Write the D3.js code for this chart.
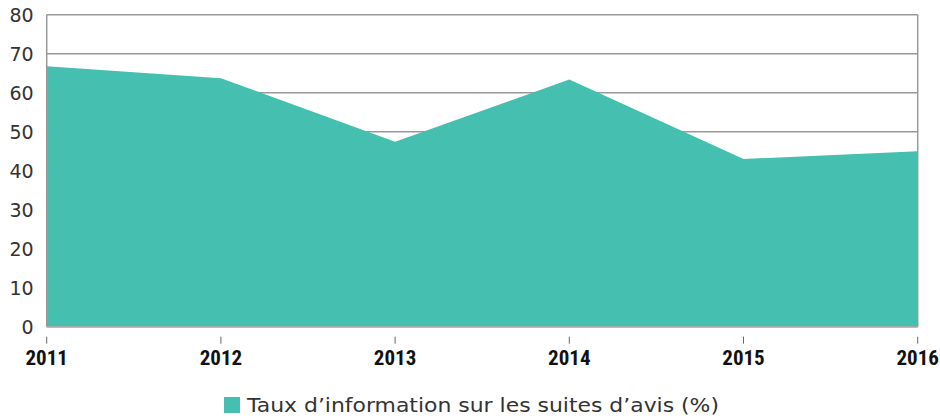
<!DOCTYPE html>
<html>
<head>
<meta charset="utf-8">
<script src="https://cdn.jsdelivr.net/npm/d3@7"></script>
<style>
  body { margin: 0; background: #fff; }
  .ylab { font-family: "DejaVu Sans", sans-serif; font-size: 19px; fill: #333; }
  .xlab { font-family: "Liberation Sans Narrow", "Roboto Condensed", "Roboto", sans-serif; font-weight: bold; font-size: 21px; fill: #111; }
  .legend { font-family: "DejaVu Sans", sans-serif; font-size: 20px; fill: #333; }
</style>
</head>
<body>
<div id="chart"></div>
<script>
var years = ["2011", "2012", "2013", "2014", "2015", "2016"];
var values = [66.8, 63.7, 47.4, 63.4, 43.0, 45.0];
var yTicks = [0, 10, 20, 30, 40, 50, 60, 70, 80];
var seriesName = "Taux d\u2019information sur les suites d\u2019avis (%)";

var width = 940, height = 418;
var margin = {top: 14.7, right: 22.3, bottom: 91.3, left: 46.7};
var w = width - margin.left - margin.right,
    h = height - margin.top - margin.bottom;

var svg = d3.select("#chart")
  .append("svg")
    .attr("width", width)
    .attr("height", height);

var g = svg.append("g")
  .attr("transform", "translate(" + margin.left + "," + margin.top + ")");

var x = d3.scalePoint().domain(years).range([0, w]);
var y = d3.scaleLinear().domain([0, 80]).range([h, 0]);

// grid lines
g.selectAll(".grid")
  .data(yTicks)
  .enter().append("line")
    .attr("x1", 0).attr("x2", w)
    .attr("y1", function(d) { return y(d); })
    .attr("y2", function(d) { return y(d); })
    .attr("stroke", "#999")
    .attr("stroke-width", 1.5);

// area
var area = d3.area()
  .x(function(d, i) { return x(years[i]); })
  .y0(y(0))
  .y1(function(d) { return y(d); });

g.append("path")
  .attr("d", area(values))
  .attr("fill", "#45bfb0");

// frame
g.append("line").attr("x1", 0).attr("x2", 0).attr("y1", 0).attr("y2", h)
  .attr("stroke", "#999").attr("stroke-width", 1.5);
g.append("line").attr("x1", w).attr("x2", w).attr("y1", 0).attr("y2", h)
  .attr("stroke", "#999").attr("stroke-width", 1.5);
g.append("line").attr("x1", 0).attr("x2", w).attr("y1", h).attr("y2", h)
  .attr("stroke", "#aaa").attr("stroke-width", 1.5);

// y labels
g.selectAll(".ylab")
  .data(yTicks)
  .enter().append("text")
    .attr("class", "ylab")
    .attr("x", -13)
    .attr("y", function(d) { return y(d); })
    .attr("dy", "0.36em")
    .attr("text-anchor", "end")
    .text(function(d) { return d; });

// x ticks and labels
g.selectAll(".xtick")
  .data(years)
  .enter().append("line")
    .attr("x1", function(d) { return x(d); })
    .attr("x2", function(d) { return x(d); })
    .attr("y1", h + 10).attr("y2", h + 17)
    .attr("stroke", "#666");

g.selectAll(".xlab")
  .data(years)
  .enter().append("text")
    .attr("class", "xlab")
    .attr("x", function(d) { return x(d); })
    .attr("y", h + 38)
    .attr("text-anchor", "middle")
    .text(function(d) { return d; });

// legend
var lg = svg.append("g").attr("transform", "translate(224,397)");
lg.append("rect").attr("width", 16).attr("height", 16).attr("fill", "#45bfb0");
lg.append("text").attr("class", "legend")
  .attr("x", 23).attr("y", 15)
  .attr("textLength", 472)
  .attr("lengthAdjust", "spacingAndGlyphs")
  .text(seriesName);
</script>
</body>
</html>
